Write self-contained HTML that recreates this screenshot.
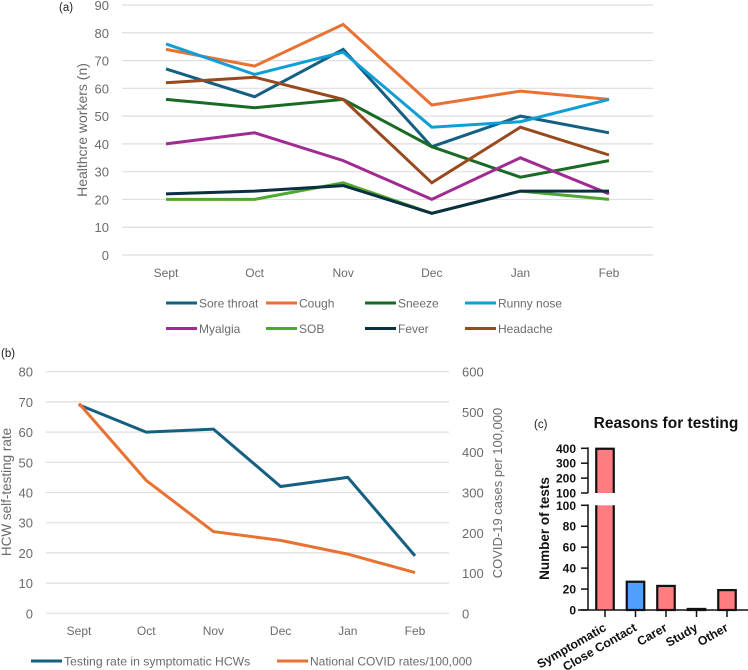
<!DOCTYPE html>
<html>
<head>
<meta charset="utf-8">
<title>Chart</title>
<style>
html,body{margin:0;padding:0;background:#fff;}
svg{display:block;}
text{font-family:"Liberation Sans",sans-serif;}
</style>
</head>
<body>
<svg id="fig" xmlns="http://www.w3.org/2000/svg" width="748" height="670" viewBox="0 0 748 670"></svg>
<script>
// Panel (a)
const monthsA = ["Sept","Oct","Nov","Dec","Jan","Feb"];
const ticksA = [0,10,20,30,40,50,60,70,80,90];
const soreThroat = [67,57,74,39,50,44];
const cough = [74,68,83,54,59,56];
const sneeze = [56,53,56,39,28,34];
const runnyNose = [76,65,73,46,48,56];
const myalgia = [40,44,34,20,35,22];
const sob = [20,20,26,15,23,20];
const fever = [22,23,25,15,23,23];
const headache = [62,64,56,26,46,36];
const seriesNamesA = ["Sore throat","Cough","Sneeze","Runny nose","Myalgia","SOB","Fever","Headache"];
const seriesColorsA = ["#156082","#E97132","#196B24","#0F9ED5","#A02B93","#4EA72E","#0B3041","#984A1E"];

// Panel (b)
const monthsB = ["Sept","Oct","Nov","Dec","Jan","Feb"];
const ticksBLeft = [0,10,20,30,40,50,60,70,80];
const ticksBRight = [0,100,200,300,400,500,600];
const testingRate = [69,60,61,42,45,19];
const nationalRates = [521,330,203,181,147,101];

// Panel (c)
const reasons = ["Symptomatic","Close Contact","Carer","Study","Other"];
const reasonCounts = [397,27,23,1,19];
const reasonColors = ["#FF7C80","#4F9FFF","#FF7C80","#FF7C80","#FF7C80"];
const ticksCLower = [0,20,40,60,80,100];
const ticksCUpper = [100,200,300,400];

const svg = document.getElementById('fig');
const NS = 'http://www.w3.org/2000/svg';
const GREY = '#6b6b6b';
const LW = 3;

function mk(tag, attrs, parent){
  const el = document.createElementNS(NS, tag);
  for (const k in attrs) el.setAttribute(k, attrs[k]);
  (parent || svg).appendChild(el);
  return el;
}
function txt(str, x, y, size, color, anchor, extra){
  const el = mk('text', Object.assign({x:x, y:y, 'font-size':size, fill:color, 'text-anchor':anchor||'start'}, extra||{}));
  el.textContent = str;
  return el;
}
function slug(s){ return s.toLowerCase().replace(/[^a-z0-9]+/g,'-').replace(/^-|-$/g,''); }

// ---------- Panel A ----------
const yA = v => 255 - v * (250 / 90);
const xA = i => 166 + i * 88.6;

const labelA = txt('(a)', 59, 11, 11.5, '#222', 'start');



ticksA.forEach(t => {
  const g = mk('line', {x1:122, x2:653, y1:yA(t), y2:yA(t), stroke:'#dedede', 'stroke-width':1.2});
  
  
  const l = txt(String(t), 109, yA(t)+5, 13, GREY, 'end');
  
  
});
monthsA.forEach((m,i) => {
  const l = txt(m, xA(i), 277, 12, GREY, 'middle');
  
  
});
const titleA = txt('Healthcre workers (n)', 0, 0, 14, GREY, 'middle', {transform:'translate(87,130) rotate(-90)'});



const seriesA = [soreThroat,cough,sneeze,runnyNose,myalgia,sob,fever,headache];
[0,1,2,5,3,4,6,7].forEach(idx => {
  const pts = seriesA[idx].map((v,i) => xA(i).toFixed(1)+','+yA(v).toFixed(1)).join(' ');
  const p = mk('polyline', {points:pts, fill:'none', stroke:seriesColorsA[idx], 'stroke-width':LW, 'stroke-linejoin':'miter'});
  
  
});
const legX = [166,266,365,465];
seriesNamesA.forEach((n,i) => {
  const col = i % 4;
  const yy = i < 4 ? 303 : 328.5;
  const ln = mk('line', {x1:legX[col], x2:legX[col]+31, y1:yy, y2:yy, stroke:seriesColorsA[i], 'stroke-width':LW});
  
  
  const l = txt(n, legX[col]+33, yy+4.5, 12, GREY, 'start');
  
  
});

// ---------- Panel B ----------
const yB = v => 613.3 - v * (241.6 / 80);
const yBR = v => 613.3 - v * (241.6 / 600);
const xB = i => 79 + i * 67.2;

const labelB = txt('(b)', 1, 357, 11.5, '#222', 'start');



ticksBLeft.forEach(t => {
  const g = mk('line', {x1:46, x2:449, y1:yB(t), y2:yB(t), stroke:'#dedede', 'stroke-width':1.2});
  
  
  const l = txt(String(t), 33, yB(t)+5, 13, GREY, 'end');
  
  
});
ticksBRight.forEach(t => {
  const l = txt(String(t), 462, yBR(t)+5, 13, GREY, 'start');
  
  
});
monthsB.forEach((m,i) => {
  const l = txt(m, xB(i), 635, 12, GREY, 'middle');
  
  
});
const titleBL = txt('HCW self-testing rate', 0, 0, 13.5, GREY, 'middle', {transform:'translate(11,492) rotate(-90)'});


const titleBR = txt('COVID-19 cases per 100,000', 0, 0, 13, GREY, 'middle', {transform:'translate(502,493) rotate(-90)'});



const lineRate = mk('polyline', {points:testingRate.map((v,i)=>xB(i).toFixed(1)+','+yB(v).toFixed(1)).join(' '), fill:'none', stroke:'#156082', 'stroke-width':LW});


const lineNat = mk('polyline', {points:nationalRates.map((v,i)=>xB(i).toFixed(1)+','+yBR(v).toFixed(1)).join(' '), fill:'none', stroke:'#E97132', 'stroke-width':LW});



const sw1 = mk('line', {x1:31, x2:62, y1:661, y2:661, stroke:'#156082', 'stroke-width':LW});


const lg1 = txt('Testing rate in symptomatic HCWs', 64, 665.5, 12.2, GREY, 'start');


const sw2 = mk('line', {x1:277, x2:308, y1:661, y2:661, stroke:'#E97132', 'stroke-width':LW});


const lg2 = txt('National COVID rates/100,000', 310, 665.5, 12, GREY, 'start');



// ---------- Panel C ----------
const yCL = v => 610 - v * (104.7 / 100);
const yCU = v => 493 - (v - 100) * (44.7 / 300);
const xC = i => 605 + i * 30.5;
const BW = 17.5;

const labelC = txt('(c)', 534, 428, 11.5, '#222', 'start');


const titleC = txt('Reasons for testing', 666, 428, 15.5, '#111', 'middle', {'font-weight':'bold'});


const titleCY = txt('Number of tests', 0, 0, 13.5, '#111', 'middle', {'font-weight':'bold', transform:'translate(549,528.5) rotate(-90)'});



reasonCounts.forEach((v,i) => {
  const x = xC(i) - BW/2;
  if (v > 100) {
    const fl = mk('rect', {x:x, y:yCL(100), width:BW, height:yCL(0)-yCL(100), fill:reasonColors[i]});
    
    
    const lower = mk('path', {d:`M${x} ${yCL(0)} V${yCL(100)} M${x+BW} ${yCL(100)} V${yCL(0)}`, stroke:'#111', 'stroke-width':2.2, fill:'none'});
    
    
    const fu = mk('rect', {x:x, y:yCU(v), width:BW, height:yCU(100)-yCU(v), fill:reasonColors[i]});
    
    
    const upper = mk('path', {d:`M${x} ${yCU(100)} V${yCU(v)} H${x+BW} V${yCU(100)}`, stroke:'#111', 'stroke-width':2.2, fill:'none'});
    
    
  } else {
    const r = mk('rect', {x:x, y:yCL(v), width:BW, height:yCL(0)-yCL(v), fill:reasonColors[i], stroke:'#111', 'stroke-width':2.2});
    
    
  }
});

const axL = mk('line', {x1:588, x2:588, y1:yCL(100)-1, y2:yCL(0), stroke:'#111', 'stroke-width':1.5});


const axU = mk('line', {x1:588, x2:588, y1:yCU(400)-1, y2:yCU(100), stroke:'#111', 'stroke-width':1.5});


const axX = mk('line', {x1:578, x2:748, y1:610, y2:610, stroke:'#111', 'stroke-width':1.5});



ticksCLower.forEach(t => {
  const tk = mk('line', {x1:581, x2:588, y1:yCL(t), y2:yCL(t), stroke:'#111', 'stroke-width':1.5});
  
  
  const l = txt(String(t), 576, yCL(t)+4.5, 12, '#111', 'end', {'font-weight':'bold'});
  
  
});
ticksCUpper.forEach(t => {
  const tk = mk('line', {x1:581, x2:588, y1:yCU(t), y2:yCU(t), stroke:'#111', 'stroke-width':1.5});
  
  
  const l = txt(String(t), 576, yCU(t)+4.5, 12, '#111', 'end', {'font-weight':'bold'});
  
  
});
reasons.forEach((r,i) => {
  const tk = mk('line', {x1:xC(i), x2:xC(i), y1:610, y2:617, stroke:'#111', 'stroke-width':1.5});
  
  
  const l = txt(r, 0, 0, 12.3, '#111', 'end', {'font-weight':'bold', transform:`translate(${xC(i)+2},630) rotate(-30)`});
  
  
});
</script>
</body>
</html>
